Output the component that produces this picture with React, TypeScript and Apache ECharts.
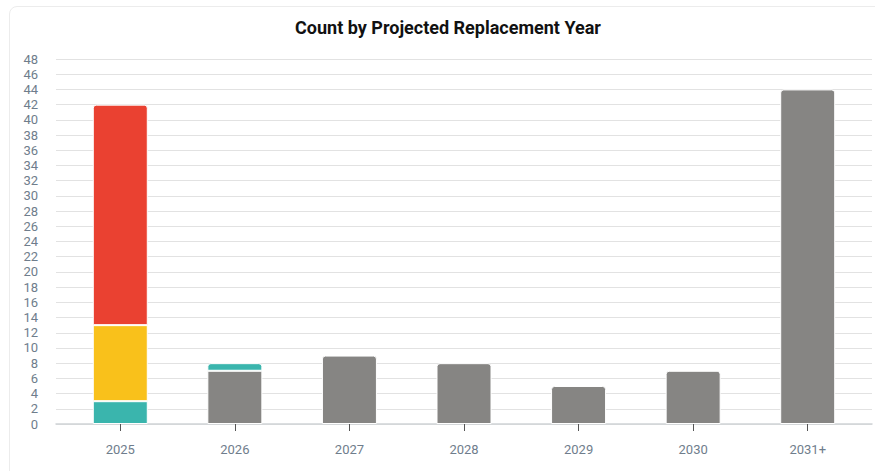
import React, { useEffect, useRef } from "react";
import * as echarts from "echarts";

const categories = ["2025", "2026", "2027", "2028", "2029", "2030", "2031+"];
const tealBottom = [3, "-", "-", "-", "-", "-", "-"];
const yellowValues = [10, "-", "-", "-", "-", "-", "-"];
const redValues = [29, "-", "-", "-", "-", "-", "-"];
const grayValues = ["-", 7, 9, 8, 5, 7, 44];
const tealTop = ["-", 1, "-", "-", "-", "-", "-"];

const TEAL = "#3AB5AD";
const YELLOW = "#F9C11B";
const RED = "#EA4131";
const GRAY = "#868583";

export default function App() {
  const ref = useRef<HTMLDivElement>(null);
  useEffect(() => {
    document.body.style.margin = "0";
    const chart = echarts.init(ref.current!, undefined, { renderer: "svg" });
    const top = [3, 3, 0, 0];
    const base = { type: "bar", stack: "s", xAxisIndex: 1, yAxisIndex: 1, barWidth: 55 };
    chart.setOption({
      animation: false,
      title: {
        text: "Count by Projected Replacement Year",
        left: 443,
        top: 13,
        textAlign: "center",
        textStyle: { fontFamily: "Roboto", fontWeight: 700, fontSize: 18, color: "#111" },
      },
      grid: [
        { left: 56, right: 3, top: 59, bottom: 47 },
        { left: 63, right: 10, top: 59, bottom: 47 },
      ],
      xAxis: [
        {
          type: "category",
          gridIndex: 0,
          data: categories,
          axisLine: { show: true, lineStyle: { color: "#cfd3d6", width: 1.5 } },
          axisTick: { show: false },
          axisLabel: { show: false },
        },
        {
          type: "category",
          gridIndex: 1,
          data: categories,
          axisLine: { show: false },
          axisTick: { show: true, alignWithLabel: true, length: 7, lineStyle: { color: "#555" } },
          axisLabel: { margin: 19, fontFamily: "Roboto", fontSize: 13, color: "#6f7d8c" },
        },
      ],
      yAxis: [
        {
          type: "value",
          gridIndex: 0,
          min: 0,
          max: 48,
          interval: 2,
          axisLine: { show: false },
          axisTick: { show: false },
          splitLine: { lineStyle: { color: "#e2e2e2", width: 1 } },
          axisLabel: { margin: 18, fontFamily: "Roboto", fontSize: 13, color: "#6f7d8c" },
        },
        {
          type: "value",
          gridIndex: 1,
          min: 0,
          max: 48,
          interval: 2,
          show: false,
          splitLine: { show: false },
        },
      ],
      series: [
        { ...base, name: "teal", data: tealBottom, itemStyle: { color: TEAL, borderColor: "#fff", borderWidth: 1 } },
        { ...base, name: "yellow", data: yellowValues, itemStyle: { color: YELLOW, borderColor: "#fff", borderWidth: 1 } },
        { ...base, name: "red", data: redValues, itemStyle: { color: RED, borderColor: "#fff", borderWidth: 1, borderRadius: top } },
        {
          ...base,
          name: "gray",
          data: grayValues.map((v, i) => (i === 1 ? v : { value: v, itemStyle: { borderRadius: top } })),
          itemStyle: { color: GRAY, borderColor: "#fff", borderWidth: 1 },
        },
        { ...base, name: "tealTop", data: tealTop, itemStyle: { color: TEAL, borderColor: "#fff", borderWidth: 1, borderRadius: top } },
      ],
    });
    return () => chart.dispose();
  }, []);
  return (
    <div style={{ position: "relative", width: 875, height: 471, background: "#fff", overflow: "hidden" }}>
      <div
        style={{
          position: "absolute",
          left: 9,
          top: 6,
          width: 900,
          height: 500,
          border: "1px solid #ececec",
          borderRadius: 8,
          boxSizing: "border-box",
        }}
      />
      <div ref={ref} style={{ position: "absolute", left: 0, top: 0, width: 875, height: 471 }} />
    </div>
  );
}
